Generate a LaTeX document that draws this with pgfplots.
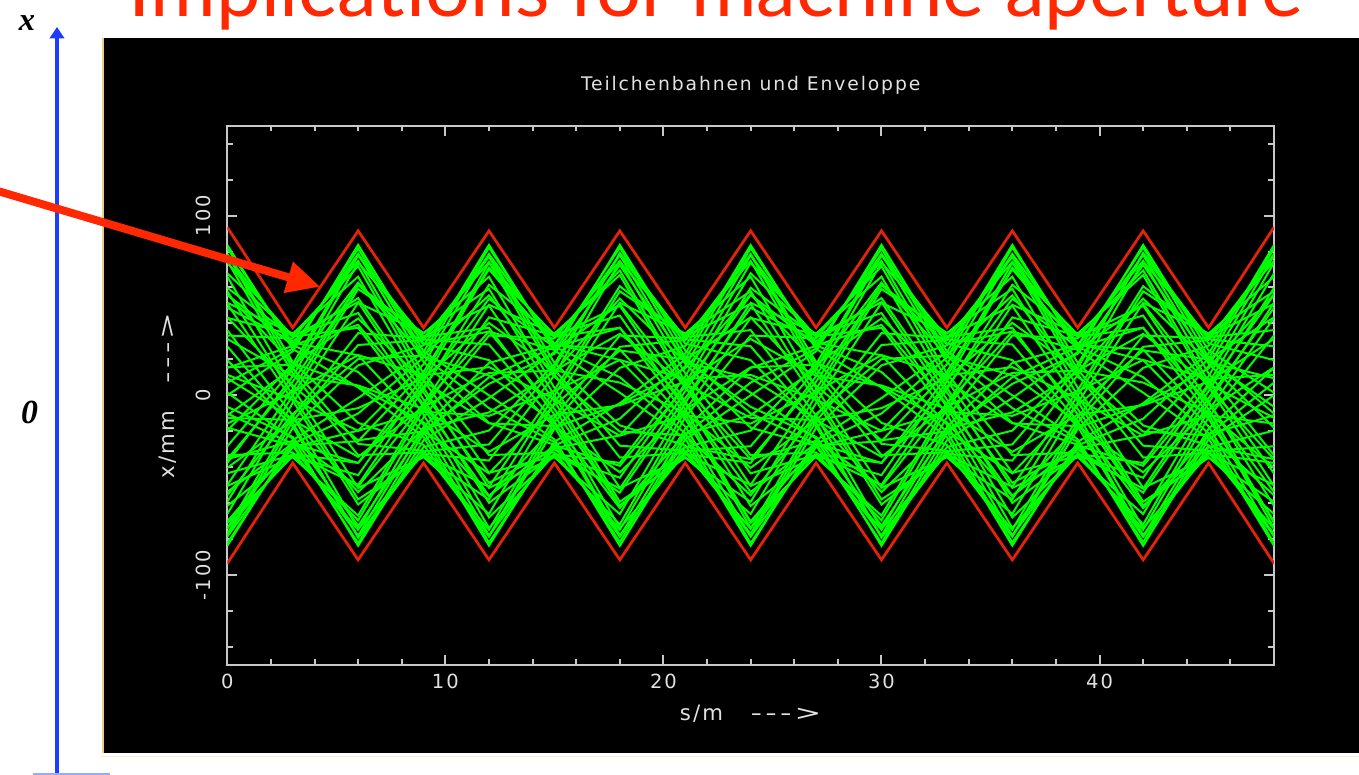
\documentclass[border=0pt]{standalone}
\usepackage{pgfplots}
\pgfplotsset{compat=1.18}
\usepackage{pgfplotstable}
\usetikzlibrary{arrows.meta}
\usepackage{fontspec}
\setmainfont{DejaVu Sans}
\newfontfamily\plotfont[LetterSpace=10]{DejaVu Sans}
\newfontfamily\slidefont{Lato}
\newfontfamily\tnr{Liberation Serif}

\definecolor{grn}{RGB}{0,255,0}
\definecolor{env}{RGB}{230,35,10}
\definecolor{arr}{RGB}{255,40,0}
\definecolor{axgray}{RGB}{200,200,200}
\definecolor{plottext}{RGB}{225,225,225}
\definecolor{bluearr}{RGB}{30,60,255}

\pgfplotstableread{
s p1 p2 p3 p4 p5 p6 p7 p8 p9 p10 p11 p12 p13 p14 p15 p16 p17 p18 p19 p20 p21 p22 p23 p24 p25 p26 p27 p28 p29 p30 p31 p32 p33 p34 p35 p36 p37 p38 p39 p40
0 83.6 77.9 73.8 59.8 51.5 33.3 15.3 0.0 -19.6 -37.6 -49.8 -66.0 -74.2 -78.3 -83.7 -78.6 -73.8 -61.5 -50.4 -33.3 -18.0 1.5 19.6 36.3 50.9 66.0 74.8 78.6 55.9 -11.1 -55.6 -53.7 9.5 43.4 15.6 -40.3 -12.5 31.4 -15.7 11.4
3 25.8 29.4 32.6 32.7 34.4 31.7 27.5 24.5 17.3 10.6 3.4 -4.2 -11.6 -18.1 -25.0 -28.8 -32.6 -32.6 -34.4 -31.7 -28.1 -24.1 -17.3 -11.2 -2.9 4.2 12.2 18.6 27.9 15.1 -10.4 -26.7 -13.0 5.4 17.1 -13.9 -13.7 10.8 2.0 -2.4
6 4.4 22.3 37.6 51.9 66.0 74.8 78.6 83.7 78.6 73.8 61.5 51.5 34.6 16.7 -1.5 -19.6 -37.6 -49.8 -66.9 -74.8 -78.0 -83.7 -78.6 -74.4 -60.7 -51.5 -33.3 -15.3 39.2 62.7 20.2 -37.6 -53.8 -25.0 42.8 -7.1 -34.2 5.5 22.4 -19.7
9 -23.2 -16.3 -10.6 -2.3 4.2 12.2 18.6 24.5 28.8 32.6 32.6 34.4 31.9 27.8 24.1 17.3 10.6 3.4 -4.8 -12.2 -17.6 -25.0 -28.8 -32.4 -32.7 -34.4 -31.7 -27.5 -4.9 21.6 22.2 4.7 -18.5 -20.0 8.0 9.7 -6.4 -7.6 11.1 -9.1
12 -83.6 -77.9 -73.8 -59.8 -51.5 -33.3 -15.3 0.0 19.6 37.6 49.8 66.0 74.2 78.3 83.7 78.6 73.8 61.5 50.4 33.3 18.0 -1.5 -19.6 -36.3 -50.9 -66.0 -74.8 -78.6 -55.9 11.1 55.6 53.7 -9.5 -43.4 -15.6 40.3 12.5 -31.4 15.7 -11.4
15 -25.8 -29.4 -32.6 -32.7 -34.4 -31.7 -27.5 -24.5 -17.3 -10.6 -3.4 4.2 11.6 18.1 25.0 28.8 32.6 32.6 34.4 31.7 28.1 24.1 17.3 11.2 2.9 -4.2 -12.2 -18.6 -27.9 -15.1 10.4 26.7 13.0 -5.4 -17.1 13.9 13.7 -10.8 -2.0 2.4
18 -4.4 -22.3 -37.6 -51.9 -66.0 -74.8 -78.6 -83.7 -78.6 -73.8 -61.5 -51.5 -34.6 -16.7 1.5 19.6 37.6 49.8 66.9 74.8 78.0 83.7 78.6 74.4 60.7 51.5 33.3 15.3 -39.2 -62.7 -20.2 37.6 53.8 25.0 -42.8 7.1 34.2 -5.5 -22.4 19.7
21 23.2 16.3 10.6 2.3 -4.2 -12.2 -18.6 -24.5 -28.8 -32.6 -32.6 -34.4 -31.9 -27.8 -24.1 -17.3 -10.6 -3.4 4.8 12.2 17.6 25.0 28.8 32.4 32.7 34.4 31.7 27.5 4.9 -21.6 -22.2 -4.7 18.5 20.0 -8.0 -9.7 6.4 7.6 -11.1 9.1
24 83.6 77.9 73.8 59.8 51.5 33.3 15.3 0.0 -19.6 -37.6 -49.8 -66.0 -74.2 -78.3 -83.7 -78.6 -73.8 -61.5 -50.4 -33.3 -18.0 1.5 19.6 36.3 50.9 66.0 74.8 78.6 55.9 -11.1 -55.6 -53.7 9.5 43.4 15.6 -40.3 -12.5 31.4 -15.7 11.4
27 25.8 29.4 32.6 32.7 34.4 31.7 27.5 24.5 17.3 10.6 3.4 -4.2 -11.6 -18.1 -25.0 -28.8 -32.6 -32.6 -34.4 -31.7 -28.1 -24.1 -17.3 -11.2 -2.9 4.2 12.2 18.6 27.9 15.1 -10.4 -26.7 -13.0 5.4 17.1 -13.9 -13.7 10.8 2.0 -2.4
30 4.4 22.3 37.6 51.9 66.0 74.8 78.6 83.7 78.6 73.8 61.5 51.5 34.6 16.7 -1.5 -19.6 -37.6 -49.8 -66.9 -74.8 -78.0 -83.7 -78.6 -74.4 -60.7 -51.5 -33.3 -15.3 39.2 62.7 20.2 -37.6 -53.8 -25.0 42.8 -7.1 -34.2 5.5 22.4 -19.7
33 -23.2 -16.3 -10.6 -2.3 4.2 12.2 18.6 24.5 28.8 32.6 32.6 34.4 31.9 27.8 24.1 17.3 10.6 3.4 -4.8 -12.2 -17.6 -25.0 -28.8 -32.4 -32.7 -34.4 -31.7 -27.5 -4.9 21.6 22.2 4.7 -18.5 -20.0 8.0 9.7 -6.4 -7.6 11.1 -9.1
36 -83.6 -77.9 -73.8 -59.8 -51.5 -33.3 -15.3 0.0 19.6 37.6 49.8 66.0 74.2 78.3 83.7 78.6 73.8 61.5 50.4 33.3 18.0 -1.5 -19.6 -36.3 -50.9 -66.0 -74.8 -78.6 -55.9 11.1 55.6 53.7 -9.5 -43.4 -15.6 40.3 12.5 -31.4 15.7 -11.4
39 -25.8 -29.4 -32.6 -32.7 -34.4 -31.7 -27.5 -24.5 -17.3 -10.6 -3.4 4.2 11.6 18.1 25.0 28.8 32.6 32.6 34.4 31.7 28.1 24.1 17.3 11.2 2.9 -4.2 -12.2 -18.6 -27.9 -15.1 10.4 26.7 13.0 -5.4 -17.1 13.9 13.7 -10.8 -2.0 2.4
42 -4.4 -22.3 -37.6 -51.9 -66.0 -74.8 -78.6 -83.7 -78.6 -73.8 -61.5 -51.5 -34.6 -16.7 1.5 19.6 37.6 49.8 66.9 74.8 78.0 83.7 78.6 74.4 60.7 51.5 33.3 15.3 -39.2 -62.7 -20.2 37.6 53.8 25.0 -42.8 7.1 34.2 -5.5 -22.4 19.7
45 23.2 16.3 10.6 2.3 -4.2 -12.2 -18.6 -24.5 -28.8 -32.6 -32.6 -34.4 -31.9 -27.8 -24.1 -17.3 -10.6 -3.4 4.8 12.2 17.6 25.0 28.8 32.4 32.7 34.4 31.7 27.5 4.9 -21.6 -22.2 -4.7 18.5 20.0 -8.0 -9.7 6.4 7.6 -11.1 9.1
48 83.6 77.9 73.8 59.8 51.5 33.3 15.3 0.0 -19.6 -37.6 -49.8 -66.0 -74.2 -78.3 -83.7 -78.6 -73.8 -61.5 -50.4 -33.3 -18.0 1.5 19.6 36.3 50.9 66.0 74.8 78.6 55.9 -11.1 -55.6 -53.7 9.5 43.4 15.6 -40.3 -12.5 31.4 -15.7 11.4
}\traj

\pgfplotstableread{
s q1 q2 q3 q4 q5 q6 q7 q8 q9 q10 q11 q12 q13 q14 q15 q16 q17 q18 q19 q20
0 81.8 67.9 43.1 7.1 -28.3 -59.2 -77.0 -82.2 -71.0 -43.4 -10.1 27.3 57.9 78.3 48.7 -35.5 -70.1 -6.4 56.2 -35.5
3 27.8 33.3 33.7 26.0 14.5 0.0 -14.3 -27.0 -33.8 -33.1 -27.0 -15.2 0.0 15.0 30.1 7.6 -28.0 -23.1 17.9 -25.3
6 13.0 45.8 71.8 81.6 77.8 59.2 28.0 -10.1 -44.4 -69.5 -82.2 -79.2 -57.9 -27.0 54.1 61.5 -25.5 -72.5 4.9 -50.7
9 -20.2 -6.5 8.4 21.8 31.1 34.7 30.8 21.1 7.8 -7.6 -21.1 -31.2 -33.9 -30.8 1.6 28.4 13.1 -19.4 -15.0 -4.5
12 -81.8 -67.9 -43.1 -7.1 28.3 59.2 77.0 82.2 71.0 43.4 10.1 -27.3 -57.9 -78.3 -48.7 35.5 70.1 6.4 -56.2 35.5
15 -27.8 -33.3 -33.7 -26.0 -14.5 0.0 14.3 27.0 33.8 33.1 27.0 15.2 0.0 -15.0 -30.1 -7.6 28.0 23.1 -17.9 25.3
18 -13.0 -45.8 -71.8 -81.6 -77.8 -59.2 -28.0 10.1 44.4 69.5 82.2 79.2 57.9 27.0 -54.1 -61.5 25.5 72.5 -4.9 50.7
21 20.2 6.5 -8.4 -21.8 -31.1 -34.7 -30.8 -21.1 -7.8 7.6 21.1 31.2 33.9 30.8 -1.6 -28.4 -13.1 19.4 15.0 4.5
24 81.8 67.9 43.1 7.1 -28.3 -59.2 -77.0 -82.2 -71.0 -43.4 -10.1 27.3 57.9 78.3 48.7 -35.5 -70.1 -6.4 56.2 -35.5
27 27.8 33.3 33.7 26.0 14.5 0.0 -14.3 -27.0 -33.8 -33.1 -27.0 -15.2 0.0 15.0 30.1 7.6 -28.0 -23.1 17.9 -25.3
30 13.0 45.8 71.8 81.6 77.8 59.2 28.0 -10.1 -44.4 -69.5 -82.2 -79.2 -57.9 -27.0 54.1 61.5 -25.5 -72.5 4.9 -50.7
33 -20.2 -6.5 8.4 21.8 31.1 34.7 30.8 21.1 7.8 -7.6 -21.1 -31.2 -33.9 -30.8 1.6 28.4 13.1 -19.4 -15.0 -4.5
36 -81.8 -67.9 -43.1 -7.1 28.3 59.2 77.0 82.2 71.0 43.4 10.1 -27.3 -57.9 -78.3 -48.7 35.5 70.1 6.4 -56.2 35.5
39 -27.8 -33.3 -33.7 -26.0 -14.5 0.0 14.3 27.0 33.8 33.1 27.0 15.2 0.0 -15.0 -30.1 -7.6 28.0 23.1 -17.9 25.3
42 -13.0 -45.8 -71.8 -81.6 -77.8 -59.2 -28.0 10.1 44.4 69.5 82.2 79.2 57.9 27.0 -54.1 -61.5 25.5 72.5 -4.9 50.7
45 20.2 6.5 -8.4 -21.8 -31.1 -34.7 -30.8 -21.1 -7.8 7.6 21.1 31.2 33.9 30.8 -1.6 -28.4 -13.1 19.4 15.0 4.5
48 81.8 67.9 43.1 7.1 -28.3 -59.2 -77.0 -82.2 -71.0 -43.4 -10.1 27.3 57.9 78.3 48.7 -35.5 -70.1 -6.4 56.2 -35.5
}\trajb

\pgfplotstableread{
s up lo
0 93.5 -93.5
3 37.6 -37.6
6 91.5 -91.5
9 37.6 -37.6
12 91.5 -91.5
15 37.6 -37.6
18 91.5 -91.5
21 37.6 -37.6
24 91.5 -91.5
27 37.6 -37.6
30 91.5 -91.5
33 37.6 -37.6
36 91.5 -91.5
39 37.6 -37.6
42 91.5 -91.5
45 37.6 -37.6
48 93.5 -93.5
}\env

\begin{document}
\begin{tikzpicture}
\useasboundingbox (0,0) rectangle (543.6pt,310pt);
\clip (0,0) rectangle (543.6pt,310pt);
\begin{scope}[x=0.4pt,y=0.4pt]
  % black plot panel
  \fill[black] (103,22) rectangle (1370,737);
  \draw[color={rgb,255:red,240;green,205;blue,130}, line width=0.6pt] (103,22) -- (103,737);
  \draw[color={rgb,255:red,250;green,240;blue,200}, line width=0.5pt] (100,18.5) -- (1370,18.5);
  % blue coordinate arrow
  \draw[bluearr, line width=1.9pt, -{Triangle[length=4.6pt,width=5.8pt]}] (57,-5) -- (57,748);
  \draw[color={rgb,255:red,150;green,170;blue,255}, line width=0.8pt] (33,1) -- (110,1);
  \node[font=\tnr\bfseries\itshape\fontsize{13}{13}\selectfont, inner sep=0pt] at (27,752) {x};
  \node[font=\tnr\bfseries\itshape\fontsize{13.5}{13.5}\selectfont, inner sep=0pt] at (29.5,363) {0};
  % slide title (cut off at the top, as in the slide)
  \node[anchor=base, text=arr, inner sep=0pt] at (716,758.3)
    {\resizebox{469.6pt}{!}{\slidefont Implications for machine aperture}};
\end{scope}

\begin{axis}[
  at={(90.92pt,44pt)}, anchor=south west,
  scale only axis, width=418.68pt, height=215.72pt,
  xmin=0, xmax=48, ymin=-150, ymax=150,
  axis line style={axgray, line width=0.8pt},
  xtick={0,10,20,30,40}, xticklabels={0,10,20,30,40},
  minor xtick={2,4,6,8,12,14,16,18,22,24,26,28,32,34,36,38,42,44,46},
  ytick={-100,0,100}, yticklabels={-100,0,100},
  minor ytick={-140,-120,-80,-60,-40,-20,20,40,60,80,120,140},
  tick align=inside,
  major tick length=4pt, minor tick length=2.2pt,
  every tick/.style={axgray, line width=0.8pt},
  ticklabel style={font=\plotfont\fontsize{7.8}{9}\selectfont, text=plottext, inner sep=0pt},
  xticklabel style={anchor=north}, xticklabel shift=3.3pt,
  yticklabel style={rotate=90, anchor=south}, yticklabel shift=6.5pt,
  every axis title shift=0pt,
  title={Teilchenbahnen und Enveloppe},
  title style={font=\plotfont\fontsize{7.5}{9}\selectfont, text=plottext, at={(axis description cs:0.5,1.074)}, anchor=center, inner sep=0pt},
  xlabel={s/m\hspace{1.3em}\scalebox{1.5}[1]{-{}-{}-{}>}},
  xlabel style={font=\plotfont\fontsize{8.5}{9}\selectfont, text=plottext, at={(axis description cs:0.5,-0.091)}, anchor=center, inner sep=0pt},
  ylabel={x/mm\hspace{1.3em}\scalebox{1.5}[1]{-{}-{}-{}>}},
  ylabel style={font=\plotfont\fontsize{8.5}{9}\selectfont, text=plottext, at={(axis description cs:-0.0567,0.5)}, anchor=center, rotate=0, inner sep=0pt},
]
\pgfplotsinvokeforeach{1,...,40}{
  \addplot[grn, line width=0.8pt, line join=miter] table[x=s, y=p#1] {\traj};
}
\pgfplotsinvokeforeach{1,...,20}{
  \addplot[grn, line width=0.8pt, line join=miter] table[x=s, y=q#1] {\trajb};
}
\addplot[env, line width=1.1pt] table[x=s, y=up] {\env};
\addplot[env, line width=1.1pt] table[x=s, y=lo] {\env};
\end{axis}

\begin{scope}[x=0.4pt,y=0.4pt]
  % red pointer arrow
  \draw[arr, line width=3.2pt] (-10,586.3) -- (290,497.2);
  \fill[arr] (283.6,481.9) -- (319.6,488.4) -- (293.0,513.5) -- cycle;
\end{scope}
\end{tikzpicture}
\end{document}
